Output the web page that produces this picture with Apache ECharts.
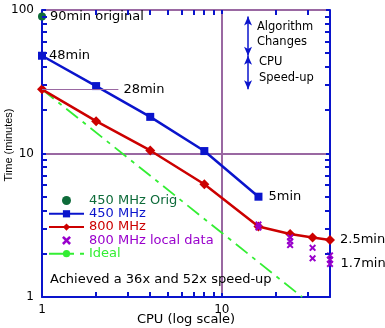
<!DOCTYPE html>
<html>
<head>
<meta charset="utf-8">
<style>
  html, body { margin: 0; padding: 0; background: #fff; }
  #chart { width: 385px; height: 328px; }
</style>
<script src="https://cdn.jsdelivr.net/npm/echarts@6/dist/echarts.min.js"></script>
</head>
<body>
<div id="chart"></div>
<script>
// CPU count vs. run time (minutes), both on log scales
const origCpu = [1];
const origTime = [90];

const cpu450 = [1, 2, 4, 8, 16];
const time450 = [48, 29.5, 18, 10.4, 5];

const cpu800 = [1, 2, 4, 8, 16, 24, 32, 40];
const time800 = [28, 16.8, 10.5, 6.1, 3.1, 2.75, 2.6, 2.5];

const cpuLocal = [16, 16, 24, 24, 24, 32, 32, 40, 40, 40];
const timeLocal = [3.2, 3.05, 2.6, 2.45, 2.3, 2.2, 1.86, 1.95, 1.82, 1.7];

const cpuIdeal = [1, 28];
const timeIdeal = [28, 1];

const xMinorTicks = [2, 3, 4, 5, 6, 7, 8, 9, 20, 30];
const yMinorTicks = [2, 3, 4, 5, 6, 7, 8, 9, 20, 30, 40, 50, 60, 70, 80, 90];

const X_MIN = 1, X_MAX = 40, Y_MIN = 1, Y_MAX = 100;

const BLUE = '#0a14cc';
const RED = '#cc0000';
const DKGREEN = '#0e6b3a';
const PURPLE = '#9900cc';
const LTGREEN = '#33ee33';
const GRID = '#9a68a2';
const FONT = 'DejaVu Sans';
const TICK_LEN = 4;

const X_SYMBOL = 'path://M0,2L2,0L5,3L8,0L10,2L7,5L10,8L8,10L5,7L2,10L0,8L3,5Z';

function pair(xs, ys) { return xs.map((x, i) => [x, ys[i]]); }

function withNote(points, index, text, distance) {
  return points.map((p, i) => {
    if (i !== index) return p;
    return {
      value: p,
      label: {
        show: true, formatter: text, position: 'right', distance: distance,
        color: '#000', fontFamily: FONT, fontSize: 13
      }
    };
  });
}

const noteLabel = { color: '#000', fontFamily: FONT, fontSize: 13 };

function noteText(x, y, text, size) {
  return {
    type: 'text', x: x, y: y,
    style: { text: text, font: size + 'px "DejaVu Sans"', fill: '#000', verticalAlign: 'middle' }
  };
}

const chart = echarts.init(document.getElementById('chart'), null, { renderer: 'canvas' });

chart.setOption({
  animation: false,
  backgroundColor: '#fff',
  grid: { left: 42, right: 55, top: 10, bottom: 31, containLabel: false, outerBoundsMode: 'none' },
  textStyle: { fontFamily: FONT },
  xAxis: [
    {
      type: 'log', min: X_MIN, max: X_MAX, position: 'bottom',
      name: 'CPU (log scale)', nameLocation: 'middle', nameGap: 16, nameMoveOverlap: false,
      nameTextStyle: { color: '#000', fontFamily: FONT, fontSize: 13 },
      axisLine: { lineStyle: { color: BLUE, width: 2 } },
      axisTick: { inside: true, length: TICK_LEN, lineStyle: { color: BLUE, width: 2 } },
      axisLabel: { color: '#000', fontFamily: FONT, fontSize: 12, margin: 7, showMaxLabel: false },
      splitLine: { show: true, lineStyle: { color: GRID, width: 2 } }
    },
    {
      type: 'log', min: X_MIN, max: X_MAX, position: 'top',
      axisLine: { show: false },
      axisTick: { inside: true, length: TICK_LEN, lineStyle: { color: BLUE, width: 2 } },
      axisLabel: { show: false },
      splitLine: { show: false }
    }
  ],
  yAxis: [
    {
      type: 'log', min: Y_MIN, max: Y_MAX, position: 'left',
      axisLine: { lineStyle: { color: BLUE, width: 2 } },
      axisTick: { inside: true, length: TICK_LEN, lineStyle: { color: BLUE, width: 2 } },
      axisLabel: { color: '#000', fontFamily: FONT, fontSize: 12, margin: 8 },
      splitLine: { show: true, lineStyle: { color: GRID, width: 2 } }
    },
    {
      type: 'log', min: Y_MIN, max: Y_MAX, position: 'right',
      axisLine: { show: true, lineStyle: { color: BLUE, width: 2 } },
      axisTick: { inside: true, length: TICK_LEN, lineStyle: { color: BLUE, width: 2 } },
      axisLabel: { show: false },
      splitLine: { show: false }
    }
  ],
  legend: {
    orient: 'vertical', left: 48, top: 194, padding: 0,
    itemWidth: 35, itemHeight: 9, itemGap: 0.3,
    textStyle: { fontFamily: FONT, fontSize: 13, lineHeight: 13 },
    data: [
      { name: '450 MHz Orig', textStyle: { color: DKGREEN } },
      { name: '450 MHz', textStyle: { color: BLUE } },
      { name: '800 MHz', textStyle: { color: RED } },
      { name: '800 MHz local data', textStyle: { color: PURPLE } },
      { name: 'Ideal', textStyle: { color: LTGREEN } }
    ]
  },
  series: [
    {
      name: 'Ideal', type: 'line', clip: false, symbol: 'none', z: 2,
      data: pair(cpuIdeal, timeIdeal),
      itemStyle: { color: LTGREEN },
      lineStyle: { color: LTGREEN, width: 1.8, type: [15, 6, 4, 6] }
    },
    {
      name: '450 MHz', type: 'line', clip: false, symbol: 'rect', symbolSize: 8, z: 3,
      data: withNote(withNote(pair(cpu450, time450), 0, '48min', 3), 4, '5min', 6),
      itemStyle: { color: BLUE },
      lineStyle: { color: BLUE, width: 2.5 },
      markLine: {
        silent: true, symbol: ['arrow', 'arrow'], symbolSize: [6, 9],
        lineStyle: { color: BLUE, width: 1.5, type: 'solid' },
        label: { show: false },
        data: [
          [{ coord: [14, 90] }, { coord: [14, 48] }],
          [{ coord: [14, 48] }, { coord: [14, 28] }]
        ]
      }
    },
    {
      name: '800 MHz', type: 'line', clip: false, symbol: 'diamond', symbolSize: 10, z: 3,
      data: withNote(pair(cpu800, time800), 7, '2.5min', 5),
      itemStyle: { color: RED },
      lineStyle: { color: RED, width: 2.5 },
      markLine: {
        silent: true, symbol: ['none', 'none'],
        lineStyle: { color: GRID, width: 1, type: 'solid' },
        label: Object.assign({ show: true, position: 'end', formatter: '28min', distance: 5 }, noteLabel),
        data: [[{ coord: [1, 28] }, { coord: [2.66, 28] }]]
      }
    },
    {
      name: '450 MHz Orig', type: 'scatter', clip: false, symbol: 'circle', symbolSize: 8, z: 4,
      data: withNote(pair(origCpu, origTime), 0, '90min original', 4),
      itemStyle: { color: DKGREEN, opacity: 1 }
    },
    {
      name: '800 MHz local data', type: 'scatter', clip: false, symbol: X_SYMBOL, symbolSize: 7, z: 4,
      data: withNote(pair(cpuLocal, timeLocal), 9, '1.7min', 7),
      itemStyle: { color: PURPLE, opacity: 1 }
    }
  ]
});

// Text notes plus minor ticks at 2..9 and 20..90, the ticks placed through the axes' log scales
const extras = [
  noteText(257, 27, 'Algorithm', 11.5),
  noteText(257, 42, 'Changes', 11.5),
  noteText(259, 62, 'CPU', 11.5),
  noteText(259, 78, 'Speed-up', 11.5),
  noteText(50, 280, 'Achieved a 36x and 52x speed-up', 13),
  {
    type: 'text', x: 8.5, y: 145, rotation: Math.PI / 2,
    style: { text: 'Time (minutes)', font: '11px "Liberation Sans"', fill: '#000', align: 'center', verticalAlign: 'middle' }
  }
];
const finder = { xAxisIndex: 0, yAxisIndex: 0 };
function tick(x1, y1, x2, y2) {
  extras.push({
    type: 'line', silent: true, z: 10,
    shape: { x1: x1, y1: y1, x2: x2, y2: y2 },
    style: { stroke: BLUE, lineWidth: 2 }
  });
}
xMinorTicks.forEach(v => {
  const b = chart.convertToPixel(finder, [v, Y_MIN]);
  const t = chart.convertToPixel(finder, [v, Y_MAX]);
  const x = Math.round(b[0]);
  tick(x, b[1], x, b[1] - TICK_LEN - 1);
  tick(x, t[1], x, t[1] + TICK_LEN + 1);
});
yMinorTicks.forEach(v => {
  const l = chart.convertToPixel(finder, [X_MIN, v]);
  const r = chart.convertToPixel(finder, [X_MAX, v]);
  const y = Math.round(l[1]);
  tick(l[0], y, l[0] + TICK_LEN + 1, y);
  tick(r[0], y, r[0] - TICK_LEN - 1, y);
});
chart.setOption({ graphic: extras });
</script>
</body>
</html>
